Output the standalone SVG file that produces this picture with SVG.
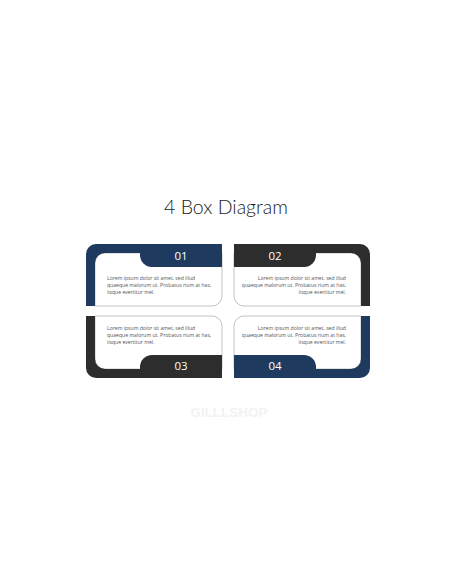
<svg xmlns="http://www.w3.org/2000/svg" xmlns:xlink="http://www.w3.org/1999/xlink" width="456" height="586" viewBox="0 0 456 586">
<style>
.title{font-family:Lato,"Open Sans","DejaVu Sans",sans-serif;font-weight:300;font-size:19.5px;fill:#1a1a1a}
.num{font-family:"Open Sans","DejaVu Sans",sans-serif;font-size:11.5px;fill:#fff;text-anchor:middle}
.body{font-family:"Open Sans","Liberation Sans",sans-serif;font-size:5.1px;fill:#555}
.end{text-anchor:end}
.card{fill:#fff;stroke:#b4b4b4;stroke-width:0.8}
.wm{font-family:"Liberation Sans",Arial,sans-serif;font-weight:bold;font-size:13.5px;fill:#f2f2f2;text-anchor:middle}
</style>
<defs>
<g id="shape">
<path class="card" d="M105,253 H222 V296 A10,10 0 0 1 212,306 H95 V263 A10,10 0 0 1 105,253 Z"/>
<path d="M86,306 V254 A10,10 0 0 1 96,244 H222 V253 H105 A10,10 0 0 0 95,263 V306 Z"/>
<path d="M140,244 H222 V267 H152 A12,12 0 0 1 140,255 Z"/>
</g>
</defs>
<rect width="456" height="586" fill="#fff"/>
<text class="title" x="226" y="214" text-anchor="middle">4 Box Diagram</text>
<g id="box1">
<use xlink:href="#shape" href="#shape" fill="#1f3a5f"/>
<text class="num" x="181" y="260">01</text>
<text class="body" x="107" y="280">Lorem ipsum dolor sit amet, sed illud</text>
<text class="body" x="107" y="287">quaeque malorum ut. Probatus rium at has,</text>
<text class="body" x="107" y="294">iisque evertitur mel.</text>
</g>
<g id="box2">
<use xlink:href="#shape" href="#shape" fill="#2d2d2d" transform="translate(456,0) scale(-1,1)"/>
<text class="num" x="275" y="260">02</text>
<text class="body end" x="346" y="280">Lorem ipsum dolor sit amet, sed illud</text>
<text class="body end" x="346" y="287">quaeque malorum ut. Probatus rium at has,</text>
<text class="body end" x="346" y="294">iisque evertitur mel.</text>
</g>
<g id="box3">
<use xlink:href="#shape" href="#shape" fill="#2d2d2d" transform="translate(0,622) scale(1,-1)"/>
<text class="num" x="181" y="370">03</text>
<text class="body" x="107" y="329.5">Lorem ipsum dolor sit amet, sed illud</text>
<text class="body" x="107" y="336.5">quaeque malorum ut. Probatus rium at has,</text>
<text class="body" x="107" y="343.5">iisque evertitur mel.</text>
</g>
<g id="box4">
<use xlink:href="#shape" href="#shape" fill="#1f3a5f" transform="translate(456,622) scale(-1,-1)"/>
<text class="num" x="275" y="370">04</text>
<text class="body end" x="346" y="329.5">Lorem ipsum dolor sit amet, sed illud</text>
<text class="body end" x="346" y="336.5">quaeque malorum ut. Probatus rium at has,</text>
<text class="body end" x="346" y="343.5">iisque evertitur mel.</text>
</g>
<g id="connectors"></g>
<text class="wm" x="229" y="417">GILLLSHOP</text>
</svg>
